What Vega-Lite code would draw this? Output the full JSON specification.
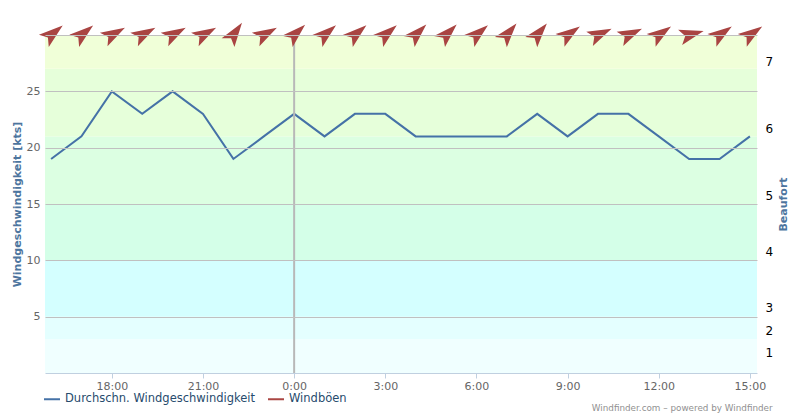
{
  "$schema": "https://vega.github.io/schema/vega-lite/v6.json",
  "width": 712,
  "height": 338,
  "autosize": {"type": "none"},
  "padding": {"left": 45, "top": 35, "right": 51, "bottom": 43},
  "background": "white",
  "config": {"view": {"stroke": null}, "font": "DejaVu Sans"},
  "title": {"text": "Windfinder.com – powered by Windfinder", "orient": "bottom", "anchor": "end", "fontSize": 8.8, "font": "DejaVu Sans", "fontWeight": "normal", "color": "#909090", "offset": -1, "dx": -16},
  "datasets": {
    "wind": [
      {"t": "2024-01-01T16:00:00", "speed": 19, "dir": 51, "series": "Durchschn. Windgeschwindigkeit"},
      {"t": "2024-01-01T17:00:00", "speed": 21, "dir": 51, "series": "Durchschn. Windgeschwindigkeit"},
      {"t": "2024-01-01T18:00:00", "speed": 25, "dir": 61, "series": "Durchschn. Windgeschwindigkeit"},
      {"t": "2024-01-01T19:00:00", "speed": 23, "dir": 61, "series": "Durchschn. Windgeschwindigkeit"},
      {"t": "2024-01-01T20:00:00", "speed": 25, "dir": 61, "series": "Durchschn. Windgeschwindigkeit"},
      {"t": "2024-01-01T21:00:00", "speed": 23, "dir": 61, "series": "Durchschn. Windgeschwindigkeit"},
      {"t": "2024-01-01T22:00:00", "speed": 19, "dir": 35, "series": "Durchschn. Windgeschwindigkeit"},
      {"t": "2024-01-01T23:00:00", "speed": 21, "dir": 61, "series": "Durchschn. Windgeschwindigkeit"},
      {"t": "2024-01-02T00:00:00", "speed": 23, "dir": 47, "series": "Durchschn. Windgeschwindigkeit"},
      {"t": "2024-01-02T01:00:00", "speed": 21, "dir": 50, "series": "Durchschn. Windgeschwindigkeit"},
      {"t": "2024-01-02T02:00:00", "speed": 23, "dir": 50, "series": "Durchschn. Windgeschwindigkeit"},
      {"t": "2024-01-02T03:00:00", "speed": 23, "dir": 50, "series": "Durchschn. Windgeschwindigkeit"},
      {"t": "2024-01-02T04:00:00", "speed": 21, "dir": 45, "series": "Durchschn. Windgeschwindigkeit"},
      {"t": "2024-01-02T05:00:00", "speed": 21, "dir": 45, "series": "Durchschn. Windgeschwindigkeit"},
      {"t": "2024-01-02T06:00:00", "speed": 21, "dir": 50, "series": "Durchschn. Windgeschwindigkeit"},
      {"t": "2024-01-02T07:00:00", "speed": 21, "dir": 40, "series": "Durchschn. Windgeschwindigkeit"},
      {"t": "2024-01-02T08:00:00", "speed": 23, "dir": 40, "series": "Durchschn. Windgeschwindigkeit"},
      {"t": "2024-01-02T09:00:00", "speed": 21, "dir": 55, "series": "Durchschn. Windgeschwindigkeit"},
      {"t": "2024-01-02T10:00:00", "speed": 23, "dir": 65, "series": "Durchschn. Windgeschwindigkeit"},
      {"t": "2024-01-02T11:00:00", "speed": 23, "dir": 65, "series": "Durchschn. Windgeschwindigkeit"},
      {"t": "2024-01-02T12:00:00", "speed": 21, "dir": 55, "series": "Durchschn. Windgeschwindigkeit"},
      {"t": "2024-01-02T13:00:00", "speed": 19, "dir": 75, "series": "Durchschn. Windgeschwindigkeit"},
      {"t": "2024-01-02T14:00:00", "speed": 19, "dir": 55, "series": "Durchschn. Windgeschwindigkeit"},
      {"t": "2024-01-02T15:00:00", "speed": 21, "dir": 55, "series": "Durchschn. Windgeschwindigkeit"}
    ],
    "bands": [
      {"lo": 0, "hi": 3, "band": "b0"},
      {"lo": 3, "hi": 5, "band": "b1"},
      {"lo": 5, "hi": 10, "band": "b2"},
      {"lo": 10, "hi": 15, "band": "b3"},
      {"lo": 15, "hi": 21, "band": "b4"},
      {"lo": 21, "hi": 27, "band": "b5"},
      {"lo": 27, "hi": 30, "band": "b6"}
    ],
    "now": [{"t": "2024-01-02T00:00:00"}]
  },
  "resolve": {"axis": {"y": "independent"}},
  "layer": [
    {
      "data": {"name": "bands"},
      "mark": {"type": "rect"},
      "encoding": {
        "y": {"field": "lo", "type": "quantitative", "scale": {"domain": [0, 30], "nice": false},
          "axis": {"orient": "right", "values": [1.82, 3.81, 5.81, 10.78, 15.75, 21.69, 27.67],
            "labelExpr": "datum.value<2?'1':datum.value<4?'2':datum.value<6?'3':datum.value<11?'4':datum.value<16?'5':datum.value<22?'6':'7'",
            "grid": false, "domain": false, "ticks": false, "labelColor": "#000000", "labelFontSize": 12, "labelFont": "DejaVu Sans",
            "labelPadding": 8, "title": "Beaufort", "titleAngle": 270, "titleColor": "#4d759e", "titleFontWeight": "bold", "titleFontSize": 11, "titleFont": "DejaVu Sans", "titlePadding": 16, "zindex": 1}},
        "y2": {"field": "hi"},
        "fill": {"field": "band", "type": "nominal", "legend": null,
          "scale": {"domain": ["b0", "b1", "b2", "b3", "b4", "b5", "b6"],
            "range": ["#F0FFFF", "#E4FFFF", "#D4FFFF", "#D4FFE8", "#DCFFE2", "#E6FFDA", "#F0FFD8"]}}
      }
    },
    {
      "data": {"name": "wind"},
      "mark": {"type": "line", "strokeWidth": 2},
      "encoding": {
        "x": {"field": "t", "type": "temporal",
          "scale": {"domain": [{"year": 2024, "month": 1, "date": 1, "hours": 15, "minutes": 48}, {"year": 2024, "month": 1, "date": 2, "hours": 15, "minutes": 14}], "nice": false},
          "axis": {"title": null, "format": "%-H:%M", "grid": false,
            "values": [
              {"year": 2024, "month": 1, "date": 1, "hours": 18},
              {"year": 2024, "month": 1, "date": 1, "hours": 21},
              {"year": 2024, "month": 1, "date": 2, "hours": 0},
              {"year": 2024, "month": 1, "date": 2, "hours": 3},
              {"year": 2024, "month": 1, "date": 2, "hours": 6},
              {"year": 2024, "month": 1, "date": 2, "hours": 9},
              {"year": 2024, "month": 1, "date": 2, "hours": 12},
              {"year": 2024, "month": 1, "date": 2, "hours": 15}
            ],
            "domainColor": "#C0D0E0", "tickColor": "#C0D0E0", "tickSize": 5, "labelColor": "#666666", "labelFontSize": 11, "labelFont": "DejaVu Sans",
            "labelPadding": 2, "zindex": 1}},
        "y": {"field": "speed", "type": "quantitative", "scale": {"domain": [0, 30], "nice": false},
          "axis": {"orient": "left", "values": [5, 10, 15, 20, 25, 30], "labelExpr": "datum.value==30?'':datum.label",
            "grid": true, "gridColor": "#C0C0C0", "gridWidth": 1, "domain": false, "ticks": false,
            "labelColor": "#666666", "labelFontSize": 11, "labelFont": "DejaVu Sans", "labelPadding": 5,
            "title": "Windgeschwindigkeit [kts]", "titleColor": "#4d759e", "titleFontSize": 11, "titleFont": "DejaVu Sans", "titleFontWeight": "bold", "titlePadding": 4, "zindex": 1}},
        "stroke": {"field": "series", "type": "nominal",
          "scale": {"domain": ["Durchschn. Windgeschwindigkeit", "Windböen"], "range": ["#4572A7", "#AA4643"]},
          "legend": {"orient": "none", "legendX": -2, "legendY": 355, "direction": "horizontal", "symbolType": "stroke", "symbolSize": 256,
            "symbolStrokeWidth": 2, "labelFont": "DejaVu Sans", "labelFontSize": 11.5, "labelColor": "#274b6d", "title": null,
            "labelLimit": 400, "columnPadding": 8, "labelOffset": 4, "padding": 0}}
      }
    },
    {
      "data": {"name": "now"},
      "mark": {"type": "rule", "color": "#B8B8B8", "strokeWidth": 2},
      "encoding": {
        "x": {"field": "t", "type": "temporal"}
      }
    },
    {
      "data": {"name": "wind"},
      "mark": {"type": "point", "shape": "M0,-1 L0.52,0.62 L0,0.27 L-0.52,0.62 Z", "size": 900, "filled": true, "color": "#A94442", "opacity": 1},
      "encoding": {
        "x": {"field": "t", "type": "temporal"},
        "y": {"datum": 30, "type": "quantitative", "axis": null},
        "angle": {"field": "dir", "type": "quantitative", "scale": null}
      }
    }
  ]
}
